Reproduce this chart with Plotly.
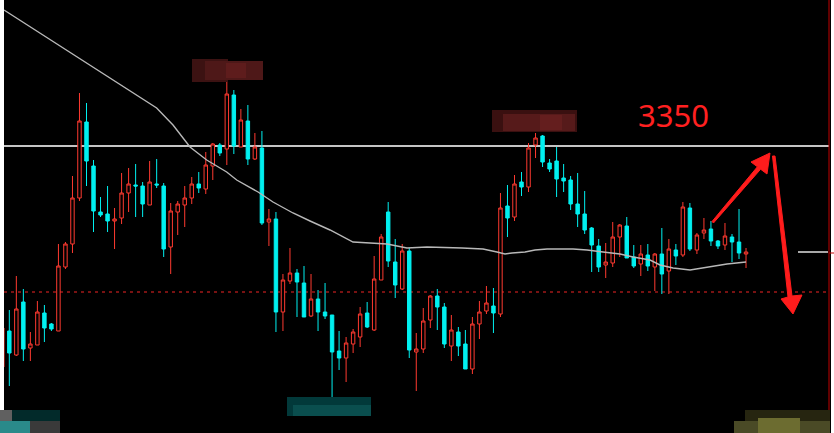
import plotly.graph_objects as go

# ---- data ----
bar_index = list(range(107))
open_ = [3239.5, 3257.5, 3245.5, 3272, 3249, 3250.5, 3266.5, 3261, 3257.5, 3289.5,
         3301, 3324, 3362, 3340, 3317, 3316, 3312.5, 3314, 3326.5, 3330.5,
         3330, 3320.5, 3331, 3330, 3299.5, 3317, 3320.5, 3324, 3331, 3328.5,
         3340, 3350.5, 3348.5, 3375.5, 3349.5, 3362.5, 3343.5, 3349, 3312, 3313.5,
         3267, 3282.5, 3286.5, 3281.5, 3265, 3273.5, 3267, 3265.5, 3247.5, 3244,
         3251, 3254.5, 3266.5, 3258, 3283, 3317, 3292, 3278.5, 3297.5, 3247,
         3248.5, 3263, 3275, 3269.5, 3250, 3257, 3251, 3238.5, 3261, 3267.5,
         3270, 3266, 3320, 3314.5, 3332, 3329.5, 3350.5, 3355, 3341.5, 3342.5,
         3334, 3333, 3321, 3316, 3309, 3300, 3290.5, 3291.5, 3304.5, 3310,
         3294.5, 3291, 3295.5, 3289.5, 3296, 3287.5, 3298, 3295.5, 3319, 3298,
         3306.5, 3308.5, 3302.5, 3300.5, 3304.5, 3302, 3296]
high = [3259, 3268, 3285, 3278.5, 3257, 3272.5, 3270.5, 3261.5, 3301, 3302,
        3335, 3376.5, 3371.5, 3343, 3324.5, 3330, 3319, 3336.5, 3339, 3341,
        3332, 3342.5, 3343.5, 3331.5, 3321.5, 3322.5, 3330, 3334.5, 3337, 3347,
        3351.5, 3351.5, 3382, 3378, 3368.5, 3370.5, 3356.5, 3357.5, 3318.5, 3317,
        3286, 3299, 3288.5, 3290, 3286, 3278, 3281.5, 3265.5, 3257.5, 3254.5,
        3258.5, 3269.5, 3272, 3295, 3306, 3322, 3303.5, 3301, 3299, 3256.5,
        3269, 3275.5, 3278.5, 3271.5, 3265.5, 3259.5, 3258, 3264.5, 3272.5, 3280,
        3279, 3326.5, 3330.5, 3335.5, 3337, 3351.5, 3356.5, 3355.5, 3343.5, 3349.5,
        3341, 3335, 3336.5, 3327.5, 3309.5, 3303.5, 3301.5, 3312, 3311, 3314.5,
        3300.5, 3300.5, 3301, 3296.5, 3309, 3303.5, 3301, 3322, 3321.5, 3306.5,
        3314, 3312.5, 3303, 3311.5, 3306, 3318.5, 3299]
low = [3239.5, 3230, 3245, 3242.5, 3242.5, 3250.5, 3252, 3257.5, 3257.5, 3288.5,
       3296.5, 3322.5, 3330, 3307, 3314.5, 3307, 3298.5, 3311, 3317, 3314.5,
       3314.5, 3320.5, 3329, 3294.5, 3286, 3305.5, 3309.5, 3321, 3326.5, 3326,
       3333, 3345, 3340.5, 3346, 3349.5, 3340.5, 3343, 3310.5, 3300, 3257,
       3257.5, 3281, 3264.5, 3264.5, 3264.5, 3257.5, 3263.5, 3224.5, 3238, 3232,
       3246.5, 3249.5, 3259, 3257.5, 3283, 3289.5, 3274, 3278, 3244, 3227.5,
       3246.5, 3259, 3258, 3249, 3242.5, 3245, 3238.5, 3236, 3253.5, 3266,
       3256.5, 3264.5, 3304.5, 3312.5, 3325, 3327, 3344, 3339.5, 3337, 3324.5,
       3327, 3318, 3309.5, 3306, 3287, 3287, 3284, 3289.5, 3294.5, 3294,
       3289, 3285, 3287.5, 3277.5, 3276, 3276, 3290.5, 3294.5, 3297.5, 3296,
       3303.5, 3300, 3298.5, 3298, 3292, 3293.5, 3289]
close = [3259, 3246.5, 3268.5, 3248.5, 3251, 3267, 3259, 3258.5, 3290, 3301,
         3324, 3362.5, 3342.5, 3317.5, 3315.5, 3312.5, 3313.5, 3326.5, 3331, 3330,
         3321, 3332, 3330.5, 3298.5, 3317.5, 3321, 3324, 3331, 3329, 3340.5,
         3351, 3346.5, 3376, 3350, 3363, 3343.5, 3349.5, 3311.5, 3313.5, 3267,
         3283, 3286.5, 3282, 3264.5, 3273.5, 3267, 3265, 3247, 3244, 3251.5,
         3257, 3266, 3259.5, 3283.5, 3304.5, 3292.5, 3280.5, 3297.5, 3248, 3248.5,
         3262.5, 3275, 3269.5, 3251, 3258, 3250, 3238.5, 3261, 3267, 3271.5,
         3266.5, 3319, 3314, 3331, 3329.5, 3349, 3354, 3342, 3338.5, 3333.5,
         3332.5, 3321, 3316, 3308, 3300.5, 3289.5, 3292, 3304.5, 3310.5, 3294,
         3290, 3296, 3290, 3296, 3286, 3298.5, 3295, 3319.5, 3298.5, 3305.5,
         3308, 3302.5, 3300, 3305, 3302, 3296.5, 3297]

ma_index = [0.24, 11.07, 15.64, 18.2, 22.0, 24.33, 26.75, 29.13, 31.98, 33.41,
            36.45, 38.58, 41.43, 43.86, 46.71, 49.99, 51.98, 54.83, 57.68, 60.53,
            65.52, 68.51, 70.51, 71.65, 72.65, 74.5, 75.93, 77.64, 81.34, 83.34,
            85.62, 88.04, 89.9, 92.32, 93.74, 95.6, 98.02, 100.44, 103.29, 106.0]
ma_value = [3418, 3393.5, 3383, 3377.5, 3369, 3360.5, 3349.5, 3343, 3337, 3333,
            3327, 3322, 3316.5, 3312.5, 3308, 3302, 3301.5, 3301, 3299, 3299.5,
            3299, 3298.5, 3297, 3296, 3296.5, 3297, 3298, 3298.5, 3298.5, 3298,
            3297, 3296, 3294.5, 3293, 3290.5, 3289, 3288, 3289.5, 3291, 3292]

resistance_level = 3350
support_level = 3277
last_price_level = 3297
label_text = "3350"

# ---- layout helpers (pixel -> paper) ----
W, H = 834, 433
ML, MR = 4, 3
PW = W - ML - MR


def px(x):
    return (x - ML) / PW


def py(y):
    return 1 - y / H


def path(points):
    s = "M " + " L ".join(f"{px(a):.5f},{py(b):.5f}" for a, b in points) + " Z"
    return s


fig = go.Figure()

fig.add_trace(go.Candlestick(
    x=bar_index, open=open_, high=high, low=low, close=close,
    increasing=dict(line=dict(color="#ff3a30", width=1), fillcolor="#000000"),
    decreasing=dict(line=dict(color="#00f0f0", width=1), fillcolor="#00f0f0"),
    whiskerwidth=0, hoverinfo="skip", showlegend=False,
))

fig.add_trace(go.Scatter(
    x=ma_index, y=ma_value, mode="lines",
    line=dict(color="#b8b8b8", width=1.4),
    hoverinfo="skip", showlegend=False,
))

shapes = []
# horizontal levels
shapes.append(dict(type="line", xref="paper", yref="y", x0=0, x1=px(829), y0=resistance_level,
                   y1=resistance_level, line=dict(color="#c4c4c4", width=1.8), layer="below"))
shapes.append(dict(type="line", xref="paper", yref="y", x0=0, x1=px(829), y0=support_level,
                   y1=support_level, line=dict(color="#a01818", width=1.3, dash="3px,4px"), layer="below"))
# right edge marker
shapes.append(dict(type="line", xref="paper", yref="paper", x0=px(829), x1=px(829), y0=0, y1=1,
                   line=dict(color="#c00000", width=1)))
shapes.append(dict(type="line", xref="paper", yref="y", x0=px(798), x1=px(828), y0=last_price_level,
                   y1=last_price_level, line=dict(color="#a8a8a8", width=2)))
shapes.append(dict(type="line", xref="paper", yref="paper", x0=px(829), x1=px(834), y0=py(253),
                   y1=py(253), line=dict(color="#c00000", width=1)))

# censored label boxes (pixelated blocks)
boxes = [
    (192, 59, 228, 82, "#3c1212"), (205, 61, 263, 80, "#4e1818"), (226, 63, 246, 78, "#5e1c1c"),
    (492, 110, 577, 132, "#3a1010"), (503, 114, 575, 131, "#561a1a"), (540, 115, 562, 130, "#641e1e"),
    (287, 397, 371, 416, "#02393a"), (293, 405, 371, 416, "#0a4e4e"),
    (0, 410, 40, 421, "#606060"), (0, 421, 30, 433, "#2a8a8a"), (12, 410, 60, 421, "#022a2a"),
    (30, 421, 60, 433, "#3a3a3a"),
    (745, 410, 830, 421, "#262510"), (734, 421, 830, 433, "#4a4a26"), (758, 418, 800, 433, "#6c6c30"),
]
for x0, y0, x1, y1, c in boxes:
    shapes.append(dict(type="rect", xref="paper", yref="paper", x0=px(x0), x1=px(x1),
                       y0=py(y1), y1=py(y0), fillcolor=c, line=dict(width=0), layer="above"))

# arrows
arrow_up = [(712, 221.5), (713.5, 223), (760.6, 169.2), (767, 174), (770, 153), (751, 162), (757.4, 166.8)]
arrow_down = [(772.5, 156), (775, 156), (792, 296), (802, 295), (793, 314), (781, 299), (788, 297)]
for pts in (arrow_up, arrow_down):
    shapes.append(dict(type="path", xref="paper", yref="paper", path=path(pts),
                       fillcolor="#ff1c1c", line=dict(color="#ff1c1c", width=1)))

fig.update_layout(
    width=W, height=H,
    margin=dict(l=ML, r=MR, t=0, b=0, pad=0),
    paper_bgcolor="#ffffff", plot_bgcolor="#000000",
    shapes=shapes,
    annotations=[dict(text=label_text, xref="paper", yref="paper", x=px(673), y=py(114.5),
                      xanchor="center", yanchor="middle", showarrow=False,
                      font=dict(family="Noto Sans", size=31, color="#ff2020"))],
    xaxis=dict(range=[0.242, 118.11], visible=False, rangeslider=dict(visible=False),
               showgrid=False, zeroline=False),
    yaxis=dict(range=[3206.5, 3423], visible=False, showgrid=False, zeroline=False),
    hovermode=False,
)

fig.write_html(
    "out.html",
    config={"displayModeBar": False},
    post_script="document.body.style.margin='0';document.body.style.overflow='hidden';",
)
